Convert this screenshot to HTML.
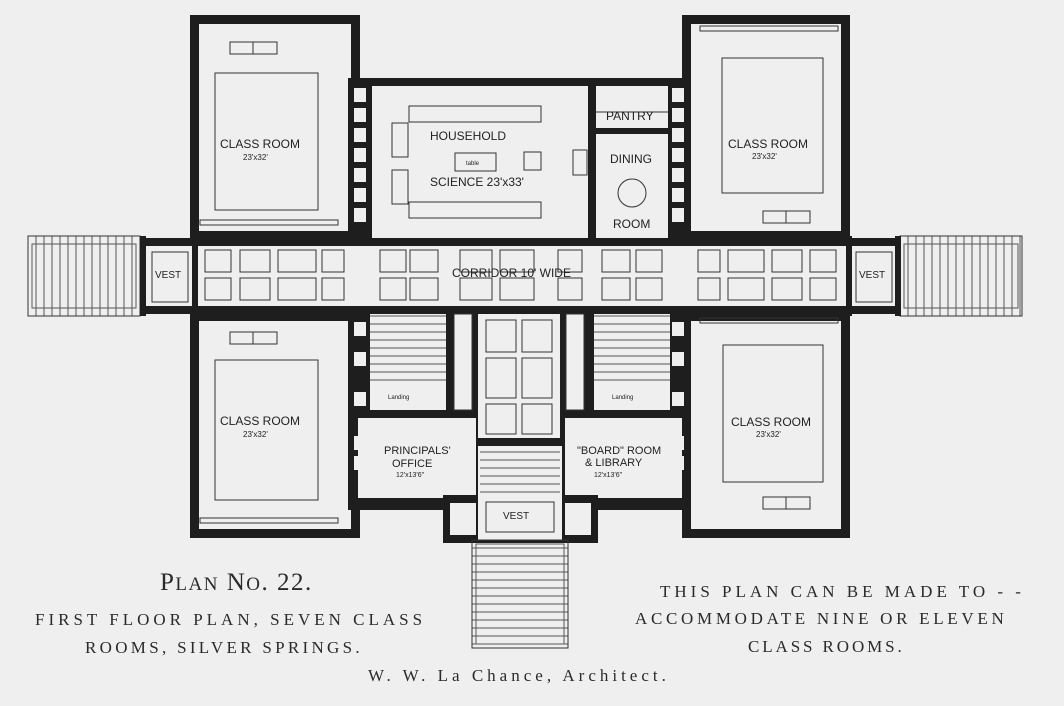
<!DOCTYPE html>
<html><head><meta charset="utf-8"><style>
body{margin:0;background:#efefef;}
svg{display:block}
.w{fill:#1e1e1e}
.l{fill:none;stroke:#333;stroke-width:1}
.t{font-family:"Liberation Sans",sans-serif;fill:#222}
.s{font-family:"Liberation Serif",serif;fill:#2a2a2a}
</style></head><body>
<svg width="1064" height="706" viewBox="0 0 1064 706" xmlns="http://www.w3.org/2000/svg">
<defs>
<pattern id="vs" width="8" height="10" patternUnits="userSpaceOnUse"><line x1="4" y1="0" x2="4" y2="10" stroke="#555" stroke-width="1"/></pattern>
<pattern id="hs" width="10" height="8" patternUnits="userSpaceOnUse"><line x1="0" y1="4" x2="10" y2="4" stroke="#555" stroke-width="1"/></pattern>
</defs>
<rect width="1064" height="706" fill="#efefef"/>

<!-- porches -->
<rect x="28" y="236" width="112" height="80" fill="url(#vs)" stroke="#333"/>
<rect x="32" y="244" width="104" height="64" fill="none" stroke="#555"/>
<rect x="900" y="236" width="122" height="80" fill="url(#vs)" stroke="#333"/>
<rect x="904" y="244" width="114" height="64" fill="none" stroke="#555"/>

<!-- classroom blocks -->
<g>
<rect x="190" y="15" width="170" height="225" class="w"/>
<rect x="199" y="24" width="152" height="207" fill="#efefef"/>
<rect x="215" y="73" width="103" height="137" class="l"/>
<rect x="230" y="42" width="47" height="12" class="l"/><line x1="253" y1="42" x2="253" y2="54" stroke="#333"/>
<rect x="200" y="220" width="138" height="5" class="l"/>

<rect x="682" y="15" width="168" height="225" class="w"/>
<rect x="691" y="24" width="150" height="207" fill="#efefef"/>
<rect x="722" y="58" width="101" height="135" class="l"/>
<rect x="763" y="211" width="47" height="12" class="l"/><line x1="786" y1="211" x2="786" y2="223" stroke="#333"/>
<rect x="700" y="26" width="138" height="5" class="l"/>

<rect x="190" y="312" width="170" height="226" class="w"/>
<rect x="199" y="321" width="152" height="208" fill="#efefef"/>
<rect x="215" y="360" width="103" height="140" class="l"/>
<rect x="230" y="332" width="47" height="12" class="l"/><line x1="253" y1="332" x2="253" y2="344" stroke="#333"/>
<rect x="200" y="518" width="138" height="5" class="l"/>

<rect x="682" y="312" width="168" height="226" class="w"/>
<rect x="691" y="321" width="150" height="208" fill="#efefef"/>
<rect x="723" y="345" width="100" height="137" class="l"/>
<rect x="763" y="497" width="47" height="12" class="l"/><line x1="786" y1="497" x2="786" y2="509" stroke="#333"/>
<rect x="700" y="318" width="138" height="5" class="l"/>
</g>

<!-- center upper block -->
<rect x="348" y="78" width="342" height="165" class="w"/>
<rect x="372" y="86" width="216" height="152" fill="#efefef"/>
<rect x="596" y="86" width="72" height="42" fill="#efefef"/>
<rect x="596" y="134" width="72" height="104" fill="#efefef"/>
<g fill="#efefef">
<rect x="354" y="88" width="12" height="14"/><rect x="354" y="108" width="12" height="14"/><rect x="354" y="128" width="12" height="14"/><rect x="354" y="148" width="12" height="14"/><rect x="354" y="168" width="12" height="14"/><rect x="354" y="188" width="12" height="14"/><rect x="354" y="208" width="12" height="14"/>
<rect x="672" y="88" width="12" height="14"/><rect x="672" y="108" width="12" height="14"/><rect x="672" y="128" width="12" height="14"/><rect x="672" y="148" width="12" height="14"/><rect x="672" y="168" width="12" height="14"/><rect x="672" y="188" width="12" height="14"/><rect x="672" y="208" width="12" height="14"/>
</g>
<rect x="409" y="106" width="132" height="16" class="l"/>
<rect x="409" y="202" width="132" height="16" class="l"/>
<rect x="392" y="123" width="16" height="34" class="l"/>
<rect x="392" y="170" width="16" height="34" class="l"/>
<rect x="455" y="153" width="41" height="18" class="l"/>
<rect x="524" y="152" width="17" height="18" class="l"/>
<rect x="573" y="150" width="14" height="25" class="l"/>
<circle cx="632" cy="193" r="14" class="l"/>
<line x1="596" y1="112" x2="668" y2="112" stroke="#333"/>

<!-- corridor -->
<rect x="140" y="238" width="760" height="8" class="w"/>
<rect x="140" y="306" width="760" height="8" class="w"/>
<rect x="140" y="246" width="760" height="60" fill="#efefef"/>
<rect x="140" y="236" width="6" height="80" class="w"/><rect x="192" y="236" width="6" height="80" class="w"/>
<rect x="846" y="236" width="6" height="80" class="w"/><rect x="895" y="236" width="6" height="80" class="w"/>
<rect x="152" y="252" width="36" height="50" class="l"/>
<rect x="856" y="252" width="36" height="50" class="l"/>
<g class="l">
<rect x="205" y="250" width="26" height="22"/><rect x="240" y="250" width="30" height="22"/><rect x="278" y="250" width="38" height="22"/><rect x="322" y="250" width="22" height="22"/>
<rect x="205" y="278" width="26" height="22"/><rect x="240" y="278" width="30" height="22"/><rect x="278" y="278" width="38" height="22"/><rect x="322" y="278" width="22" height="22"/>
<rect x="380" y="250" width="26" height="22"/><rect x="410" y="250" width="28" height="22"/><rect x="460" y="250" width="32" height="22"/><rect x="500" y="250" width="34" height="22"/><rect x="558" y="250" width="24" height="22"/><rect x="602" y="250" width="28" height="22"/><rect x="636" y="250" width="26" height="22"/>
<rect x="380" y="278" width="26" height="22"/><rect x="410" y="278" width="28" height="22"/><rect x="460" y="278" width="32" height="22"/><rect x="500" y="278" width="34" height="22"/><rect x="558" y="278" width="24" height="22"/><rect x="602" y="278" width="28" height="22"/><rect x="636" y="278" width="26" height="22"/>
<rect x="698" y="250" width="22" height="22"/><rect x="728" y="250" width="36" height="22"/><rect x="772" y="250" width="30" height="22"/><rect x="810" y="250" width="26" height="22"/>
<rect x="698" y="278" width="22" height="22"/><rect x="728" y="278" width="36" height="22"/><rect x="772" y="278" width="30" height="22"/><rect x="810" y="278" width="26" height="22"/>
</g>

<!-- center lower -->
<rect x="348" y="312" width="342" height="198" class="w"/>
<rect x="370" y="314" width="76" height="96" fill="#efefef"/>
<rect x="370" y="314" width="76" height="72" fill="url(#hs)"/>
<rect x="454" y="314" width="18" height="96" fill="#efefef" stroke="#333"/>
<rect x="478" y="314" width="82" height="124" fill="#efefef"/>
<g class="l"><rect x="486" y="320" width="30" height="32"/><rect x="522" y="320" width="30" height="32"/><rect x="486" y="358" width="30" height="40"/><rect x="522" y="358" width="30" height="40"/><rect x="486" y="404" width="30" height="30"/><rect x="522" y="404" width="30" height="30"/></g>
<rect x="566" y="314" width="18" height="96" fill="#efefef" stroke="#333"/>
<rect x="594" y="314" width="76" height="96" fill="#efefef"/>
<rect x="594" y="314" width="76" height="72" fill="url(#hs)"/>
<rect x="358" y="418" width="118" height="80" fill="#efefef"/>
<rect x="565" y="418" width="117" height="80" fill="#efefef"/>
<g fill="#efefef">
<rect x="354" y="322" width="12" height="14"/><rect x="354" y="352" width="12" height="14"/><rect x="354" y="392" width="12" height="14"/><rect x="354" y="436" width="12" height="14"/><rect x="354" y="456" width="12" height="14"/>
<rect x="672" y="322" width="12" height="14"/><rect x="672" y="352" width="12" height="14"/><rect x="672" y="392" width="12" height="14"/><rect x="672" y="436" width="12" height="14"/><rect x="672" y="456" width="12" height="14"/>
</g>
<rect x="443" y="495" width="155" height="48" class="w"/>
<rect x="450" y="503" width="26" height="32" fill="#efefef"/>
<rect x="565" y="503" width="26" height="32" fill="#efefef"/>
<rect x="478" y="446" width="84" height="94" fill="#efefef"/>
<rect x="480" y="448" width="80" height="50" fill="url(#hs)"/>
<rect x="486" y="502" width="68" height="30" class="l"/>
<rect x="472" y="540" width="96" height="108" fill="url(#hs)" stroke="#333"/>
<rect x="476" y="544" width="88" height="100" fill="none" stroke="#555"/>

<!-- labels -->
<g class="t" font-size="12">
<text x="220" y="148">CLASS ROOM</text><text x="243" y="160" font-size="8">23'x32'</text>
<text x="728" y="148">CLASS ROOM</text><text x="752" y="159" font-size="8">23'x32'</text>
<text x="220" y="425">CLASS ROOM</text><text x="243" y="437" font-size="8">23'x32'</text>
<text x="731" y="426">CLASS ROOM</text><text x="756" y="437" font-size="8">23'x32'</text>
<text x="430" y="140">HOUSEHOLD</text>
<text x="430" y="186">SCIENCE 23'x33'</text>
<text x="466" y="165" font-size="6">table</text>
<text x="606" y="120">PANTRY</text>
<text x="610" y="163">DINING</text>
<text x="613" y="228">ROOM</text>
<text x="452" y="277">CORRIDOR 10' WIDE</text>
<text x="155" y="278" font-size="10">VEST</text>
<text x="859" y="278" font-size="10">VEST</text>
<text x="384" y="454" font-size="11">PRINCIPALS'</text><text x="392" y="467" font-size="11">OFFICE</text><text x="396" y="477" font-size="7">12'x13'6"</text>
<text x="577" y="454" font-size="11">"BOARD" ROOM</text><text x="585" y="466" font-size="11">&amp; LIBRARY</text><text x="594" y="477" font-size="7">12'x13'6"</text>
<text x="503" y="519" font-size="10">VEST</text>
<text x="388" y="399" font-size="6">Landing</text><text x="612" y="399" font-size="6">Landing</text>
</g>
<g class="s">
<text x="160" y="590" font-size="25" letter-spacing="1.5">P<tspan font-size="19">LAN</tspan> N<tspan font-size="19">O</tspan>. 22.</text>
<text x="35" y="625" font-size="17" letter-spacing="4">FIRST FLOOR PLAN, SEVEN CLASS</text>
<text x="85" y="653" font-size="17" letter-spacing="3.3">ROOMS, SILVER SPRINGS.</text>
<text x="368" y="681" font-size="17" letter-spacing="4">W. W. La Chance, Architect.</text>
<text x="660" y="597" font-size="17" letter-spacing="4">THIS PLAN CAN BE MADE TO - -</text>
<text x="635" y="624" font-size="17" letter-spacing="3.7">ACCOMMODATE NINE OR ELEVEN</text>
<text x="748" y="652" font-size="17" letter-spacing="2.9">CLASS ROOMS.</text>
</g>
</svg>
</body></html>
